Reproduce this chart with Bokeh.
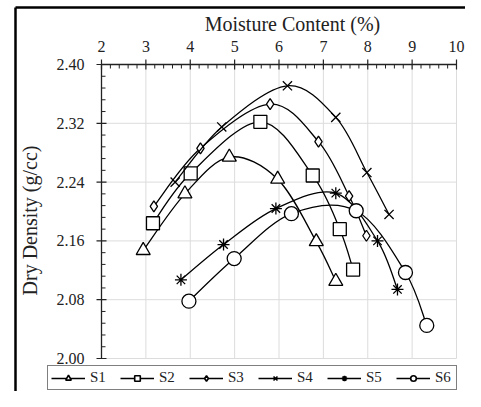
import numpy as np
from bokeh.plotting import figure
from bokeh.models import Legend, LegendItem, ColumnDataSource, Range1d
from bokeh.core.properties import value
from bokeh.embed import file_html
from bokeh.resources import INLINE

# ---- data ----
series_names = ["S1", "S2", "S3", "S4", "S5", "S6"]
s1_x = [2.94, 3.88, 4.88, 5.97, 6.84, 7.28]
s1_y = [2.147, 2.224, 2.274, 2.244, 2.159, 2.105]
s2_x = [3.16, 4.01, 5.58, 6.76, 7.37, 7.67]
s2_y = [2.184, 2.252, 2.322, 2.249, 2.176, 2.121]
s3_x = [3.18, 4.23, 5.80, 6.89, 7.58, 7.97]
s3_y = [2.207, 2.286, 2.346, 2.295, 2.221, 2.167]
s4_x = [3.66, 4.71, 6.19, 7.28, 7.98, 8.48]
s4_y = [2.240, 2.315, 2.371, 2.328, 2.253, 2.196]
s5_x = [3.79, 4.75, 5.93, 7.28, 8.22, 8.67]
s5_y = [2.107, 2.155, 2.204, 2.225, 2.160, 2.094]
s6_x = [3.97, 4.99, 6.28, 7.74, 8.85, 9.33]
s6_y = [2.078, 2.136, 2.197, 2.201, 2.117, 2.045]

x_ticks = [2, 3, 4, 5, 6, 7, 8, 9, 10]
y_ticks = [2.00, 2.08, 2.16, 2.24, 2.32, 2.40]
x_tick_labels = ["2", "3", "4", "5", "6", "7", "8", "9", "10"]
y_tick_labels = ["2.00", "2.08", "2.16", "2.24", "2.32", "2.40"]
x_title = "Moisture Content (%)"
y_title = "Dry Density (g/cc)"

series = [(s1_x, s1_y), (s2_x, s2_y), (s3_x, s3_y),
          (s4_x, s4_y), (s5_x, s5_y), (s6_x, s6_y)]
markers = ["triangle", "square", "diamond", "x", "asterisk", "circle"]
msizes = [14, 13, 11, 13, 12, 14]
lsizes = [8, 9, 8, 8, 9, 9]

FONT = "'Liberation Serif', 'Times New Roman', serif"
INK = "#222222"

# ---- layout (screen pixels) ----
W, H = 465, 391
X_LEFT_PX, X_RIGHT_PX = 101, 456     # where x=2 and x=10 sit
Y_TOP_PX, Y_BOT_PX = 64, 358         # where y=2.40 and y=2.00 sit
kx = (X_RIGHT_PX - X_LEFT_PX) / (x_ticks[-1] - x_ticks[0])
ky = (Y_BOT_PX - Y_TOP_PX) / (y_ticks[-1] - y_ticks[0])
xs0 = x_ticks[0] - X_LEFT_PX / kx
xs1 = xs0 + W / kx
ys1 = y_ticks[-1] + Y_TOP_PX / ky
ys0 = ys1 - H / ky


def X(px):
    return xs0 + px / kx


def Y(py):
    return ys1 - py / ky


p = figure(width=W, height=H, output_backend="svg", toolbar_location=None,
           x_range=Range1d(xs0, xs1), y_range=Range1d(ys0, ys1),
           x_axis_location=None, y_axis_location=None, min_border=0)
p.outline_line_color = None
p.grid.visible = False
p.background_fill_color = "white"

xmin, xmax = x_ticks[0], x_ticks[-1]
ymin, ymax = y_ticks[0], y_ticks[-1]

# grid lines
gx = x_ticks[1:]
p.segment(x0=gx, y0=[ymin] * len(gx), x1=gx, y1=[ymax] * len(gx),
          line_color="#dcdcdc", line_width=1)
gy = y_ticks[:-1]
p.segment(x0=[xmin] * len(gy), y0=gy, x1=[xmax] * len(gy), y1=gy,
          line_color="#dcdcdc", line_width=1)

# axis lines (top x axis, left y axis)
p.segment(x0=[xmin, xmin], y0=[ymax, ymin], x1=[xmax, xmin], y1=[ymax, ymax],
          line_color=INK, line_width=1.3)

# major ticks
p.segment(x0=x_ticks, y0=[ymax - 5 / ky] * len(x_ticks), x1=x_ticks,
          y1=[ymax + 5 / ky] * len(x_ticks), line_color=INK, line_width=1.2)
p.segment(x0=[xmin - 5 / kx] * len(y_ticks), y0=y_ticks,
          x1=[xmin + 5 / kx] * len(y_ticks), y1=y_ticks, line_color=INK, line_width=1.2)

# minor ticks (5 sub-intervals)
xm = [v for v in np.round(np.arange(xmin, xmax + 1e-9, 0.2), 4)
      if min(abs(v - t) for t in x_ticks) > 1e-6]
p.segment(x0=xm, y0=[ymax] * len(xm), x1=xm, y1=[ymax - 4 / ky] * len(xm),
          line_color=INK, line_width=1)
ym = [v for v in np.round(np.arange(ymin, ymax + 1e-9, 0.016), 4)
      if min(abs(v - t) for t in y_ticks) > 1e-6]
p.segment(x0=[xmin] * len(ym), y0=ym, x1=[xmin + 4 / kx] * len(ym), y1=ym,
          line_color=INK, line_width=1)

# tick labels
p.text(x=x_ticks, y=[Y(46)] * len(x_ticks), text=x_tick_labels,
       text_align="center", text_baseline="middle", text_font=value(FONT),
       text_font_size="16px", text_color=INK)
p.text(x=[X(X_LEFT_PX - 17)] * len(y_ticks), y=y_ticks, text=y_tick_labels,
       text_align="right", text_baseline="middle", text_font=value(FONT),
       text_font_size="16px", text_color=INK)

# axis titles
p.text(x=[X(292)], y=[Y(23)], text=[x_title],
       text_align="center", text_baseline="middle", text_font=value(FONT),
       text_font_size="20px", text_color=INK)
p.text(x=[X(29)], y=[Y(220)], text=[y_title], angle=np.pi / 2,
       text_align="center", text_baseline="middle", text_font=value(FONT),
       text_font_size="20px", text_color=INK)

# outer frame lines (left and top) of the original figure box
p.segment(x0=[X(15), X(15)], y0=[Y(7), Y(7)], x1=[X(15), X(W)], y1=[Y(H), Y(7)],
          line_color="black", line_width=2.5)


def smooth_segments(xs, ys):
    xs = np.asarray(xs, float)
    ys = np.asarray(ys, float)
    n = len(xs)
    xp = np.concatenate([[xs[0]], xs, [xs[-1]]])
    yp = np.concatenate([[ys[0]], ys, [ys[-1]]])
    d = dict(x0=[], y0=[], x1=[], y1=[], cx0=[], cy0=[], cx1=[], cy1=[])
    for i in range(n - 1):
        j = i + 1
        d["x0"].append(xp[j]); d["y0"].append(yp[j])
        d["x1"].append(xp[j + 1]); d["y1"].append(yp[j + 1])
        d["cx0"].append(xp[j] + (xp[j + 1] - xp[j - 1]) / 6)
        d["cy0"].append(yp[j] + (yp[j + 1] - yp[j - 1]) / 6)
        d["cx1"].append(xp[j + 1] - (xp[j + 2] - xp[j]) / 6)
        d["cy1"].append(yp[j + 1] - (yp[j + 2] - yp[j]) / 6)
    return d


items = []
for (xs, ys), name, mk, ms, ls in zip(series, series_names, markers, msizes, lsizes):
    seg = ColumnDataSource(smooth_segments(xs, ys))
    p.bezier(x0="x0", y0="y0", x1="x1", y1="y1", cx0="cx0", cy0="cy0",
             cx1="cx1", cy1="cy1", source=seg, line_color="black", line_width=1.3)
    p.scatter(xs, ys, marker=mk, size=ms, fill_color="white", line_color="black",
              line_width=1.3)
    # legend-only renderers (nothing drawn on the chart)
    lr = p.line([np.nan], [np.nan], line_color="black", line_width=1.3)
    sr = p.scatter([np.nan], [np.nan], marker=mk, size=ls, fill_color="white",
                   line_color="black", line_width=1.6)
    items.append(LegendItem(label=name, renderers=[lr, sr]))

legend = Legend(items=items, orientation="horizontal", location=(47, 1))
legend.label_text_font = FONT
legend.label_text_font_size = "15px"
legend.label_text_color = INK
legend.glyph_width = 34
legend.glyph_height = 14
legend.label_standoff = 5
legend.label_width = 18
legend.spacing = 12
legend.padding = 3
legend.margin = 0
legend.label_height = 14
legend.border_line_color = "black"
legend.border_line_width = 1.2
legend.background_fill_alpha = 1
p.add_layout(legend, "center")

open("out.html", "w").write(file_html(p, INLINE))
